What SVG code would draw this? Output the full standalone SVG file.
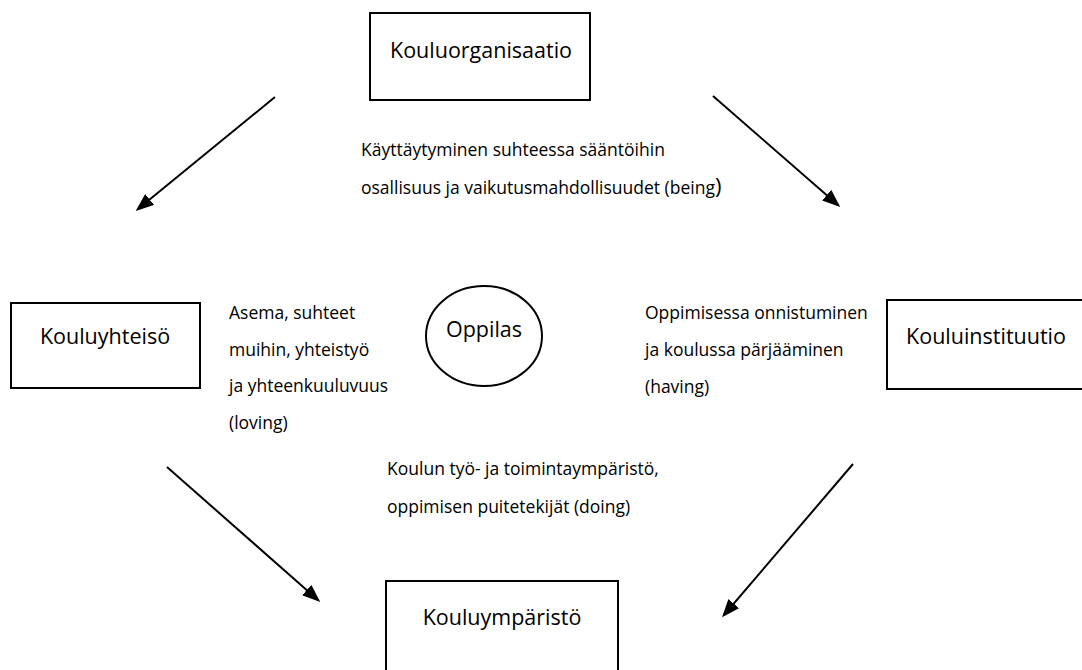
<svg xmlns="http://www.w3.org/2000/svg" width="1082" height="670" viewBox="0 0 1082 670">
<style>
.box{fill:#fff;stroke:#000;stroke-width:2}
.lbl{font-family:"Open Sans","Noto Sans",sans-serif;font-size:21.5px;fill:#000;text-anchor:middle}
.txt{font-family:"Open Sans","Noto Sans",sans-serif;font-size:17.5px;fill:#000}
.arr{stroke:#000;stroke-width:2;fill:none;marker-end:url(#ah)}
</style>
<defs>
<marker id="ah" markerWidth="18" markerHeight="14" refX="15" refY="7" orient="auto" markerUnits="userSpaceOnUse" viewBox="0 0 18 14">
<path d="M0,0 L18,7 L0,14 z" fill="#000"/>
</marker>
</defs>
<rect width="1082" height="670" fill="#fff"/>
<g id="connectors">
<line class="arr" x1="275" y1="97" x2="138" y2="209"/>
<line class="arr" x1="713" y1="96" x2="838" y2="205"/>
<line class="arr" x1="167" y1="467" x2="318" y2="600"/>
<line class="arr" x1="853" y1="464" x2="724" y2="615"/>
</g>
<g id="kouluorganisaatio">
<rect class="box" x="370" y="13" width="220" height="87"/>
<text class="lbl" x="481" y="58">Kouluorganisaatio</text>
</g>
<g id="kouluyhteiso">
<rect class="box" x="11" y="303" width="189" height="85"/>
<text class="lbl" x="105" y="344">Kouluyhteisö</text>
</g>
<g id="oppilas">
<ellipse class="box" cx="484" cy="336" rx="58" ry="50"/>
<text class="lbl" x="484" y="337" font-size="18px">Oppilas</text>
</g>
<g id="kouluinstituutio">
<rect class="box" x="887" y="300" width="205" height="89"/>
<text class="lbl" x="986" y="344">Kouluinstituutio</text>
</g>
<g id="kouluymparisto">
<rect class="box" x="386" y="581" width="232" height="100"/>
<text class="lbl" x="502" y="625">Kouluympäristö</text>
</g>
<g id="labels">
<text class="txt" x="361" y="156">Käyttäytyminen suhteessa sääntöihin</text>
<text class="txt" x="361" y="194">osallisuus ja vaikutusmahdollisuudet (being<tspan font-size="22px">)</tspan></text>
<text class="txt" x="229" y="319">Asema, suhteet</text>
<text class="txt" x="229" y="356">muihin, yhteistyö</text>
<text class="txt" x="229" y="392">ja yhteenkuuluvuus</text>
<text class="txt" x="229" y="429">(loving)</text>
<text class="txt" x="645" y="319">Oppimisessa onnistuminen</text>
<text class="txt" x="645" y="356">ja koulussa pärjääminen</text>
<text class="txt" x="645" y="393">(having)</text>
<text class="txt" x="387" y="475">Koulun työ- ja toimintaympäristö,</text>
<text class="txt" x="387" y="513">oppimisen puitetekijät (doing)</text>
</g>
</svg>
